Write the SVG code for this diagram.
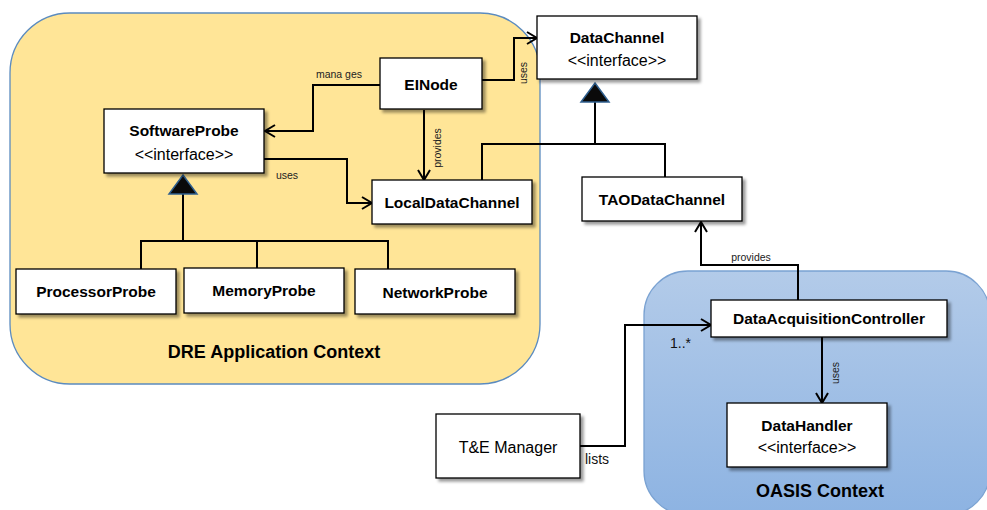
<svg xmlns="http://www.w3.org/2000/svg" width="987" height="510" viewBox="0 0 987 510">
<style>
.box{fill:#fff;stroke:#000;stroke-width:1.3;filter:url(#sh)}
.nm{font-family:"Liberation Sans",Arial,sans-serif;font-weight:bold;font-size:15.5px;fill:#000;text-anchor:middle}
.it{font-family:"Liberation Sans",Arial,sans-serif;font-size:16px;fill:#000;text-anchor:middle}
.lb{font-family:"Liberation Sans",Arial,sans-serif;font-size:10.5px;fill:#222;text-anchor:middle}
.lb2{font-family:"Liberation Sans",Arial,sans-serif;font-size:14px;fill:#111}
.ctx{font-family:"Liberation Sans",Arial,sans-serif;font-weight:bold;font-size:18px;fill:#000;text-anchor:middle}
.ln{fill:none;stroke:#000;stroke-width:2}
.ar{marker-end:url(#open)}
.gen{fill:#0a0a0a;stroke:#2f5f8f;stroke-width:1.5;stroke-linejoin:miter}
</style>
<defs>
<filter id="sh" x="-10%" y="-10%" width="130%" height="140%">
<feDropShadow dx="3" dy="3" stdDeviation="1.5" flood-color="#000" flood-opacity="0.4"/>
</filter>
<linearGradient id="oasisg" x1="0" y1="0" x2="0" y2="1">
<stop offset="0" stop-color="#b3cbe9"/>
<stop offset="1" stop-color="#8db3e2"/>
</linearGradient>
<marker id="open" markerUnits="userSpaceOnUse" markerWidth="14" markerHeight="16" refX="11" refY="7" orient="auto" viewBox="0 0 14 16">
<path d="M1,1 L11,7 L1,13" fill="none" stroke="#000" stroke-width="2"/>
</marker>
</defs>

<g id="dre-context">
<rect x="10" y="13" width="530" height="371" rx="60" ry="60" fill="#ffe597" stroke="#5b8bbf" stroke-width="1.3"/>
<text class="ctx" x="274" y="358">DRE Application Context</text>
</g>
<g id="oasis-context">
<rect x="644" y="271" width="346" height="244" rx="44" ry="44" fill="url(#oasisg)" stroke="#7aa2d2" stroke-width="1.3"/>
<text class="ctx" x="820" y="497">OASIS Context</text>
</g>

<g id="connectors">
<path class="ln ar" d="M380,85 H313 V131 H265"/>
<path class="ln ar" d="M482,80 H514 V38 H537"/>
<path class="ln ar" d="M424,110 V180"/>
<path class="ln ar" d="M264,159 H347 V203 H372"/>
<path class="ln" d="M183,194 V241"/>
<path class="ln" d="M141,269 V241 H388 V269"/>
<path class="ln" d="M257,241 V268"/>
<polygon class="gen" points="183,175 197,194 169,194"/>
<path class="ln" d="M595,102 V144"/>
<path class="ln" d="M482,180 V144 H665 V177"/>
<polygon class="gen" points="595,83 609,102 581,102"/>
<path class="ln ar" d="M798,300 V265 H701 V222"/>
<path class="ln ar" d="M822,337 V403"/>
<path class="ln ar" d="M580,446 H625 V325 H711"/>
<text class="lb" x="339" y="78">mana ges</text>
<text class="lb" x="523" y="73" transform="rotate(-90 523 73)" dominant-baseline="central">uses</text>
<text class="lb" x="437" y="148" transform="rotate(-90 437 148)" dominant-baseline="central">provides</text>
<text class="lb" x="287" y="179">uses</text>
<text class="lb" x="751" y="261">provides</text>
<text class="lb" x="835" y="373" transform="rotate(-90 835 373)" dominant-baseline="central">uses</text>
<text class="lb2" x="585" y="464">lists</text>
<text class="lb2" x="670" y="348">1..*</text>
</g>

<g id="EINode">
<rect class="box" x="380" y="58" width="102" height="51"/>
<text class="nm" x="431" y="89.5">EINode</text>
</g>
<g id="SoftwareProbe">
<rect class="box" x="104" y="109" width="160" height="64"/>
<text class="nm" x="184" y="136">SoftwareProbe</text>
<text class="it" x="184" y="159.5">&lt;&lt;interface&gt;&gt;</text>
</g>
<g id="DataChannel">
<rect class="box" x="537" y="16" width="160" height="63"/>
<text class="nm" x="617" y="43">DataChannel</text>
<text class="it" x="617" y="65.5">&lt;&lt;interface&gt;&gt;</text>
</g>
<g id="LocalDataChannel">
<rect class="box" x="372" y="180" width="160" height="44"/>
<text class="nm" x="452" y="208">LocalDataChannel</text>
</g>
<g id="TAODataChannel">
<rect class="box" x="582" y="177" width="160" height="44"/>
<text class="nm" x="662" y="204.5">TAODataChannel</text>
</g>
<g id="ProcessorProbe">
<rect class="box" x="16" y="269" width="160" height="45"/>
<text class="nm" x="96" y="297">ProcessorProbe</text>
</g>
<g id="MemoryProbe">
<rect class="box" x="184" y="268" width="160" height="45"/>
<text class="nm" x="264" y="296">MemoryProbe</text>
</g>
<g id="NetworkProbe">
<rect class="box" x="355" y="269" width="160" height="45"/>
<text class="nm" x="435" y="297.5">NetworkProbe</text>
</g>
<g id="DataAcquisitionController">
<rect class="box" x="711" y="300" width="236" height="37"/>
<text class="nm" x="829" y="323.5">DataAcquisitionController</text>
</g>
<g id="DataHandler">
<rect class="box" x="727" y="403" width="160" height="64"/>
<text class="nm" x="807" y="431">DataHandler</text>
<text class="it" x="807" y="453">&lt;&lt;interface&gt;&gt;</text>
</g>
<g id="TEManager">
<rect class="box" x="436" y="414" width="144" height="64"/>
<text class="it" x="508" y="453">T&amp;E Manager</text>
</g>
</svg>
